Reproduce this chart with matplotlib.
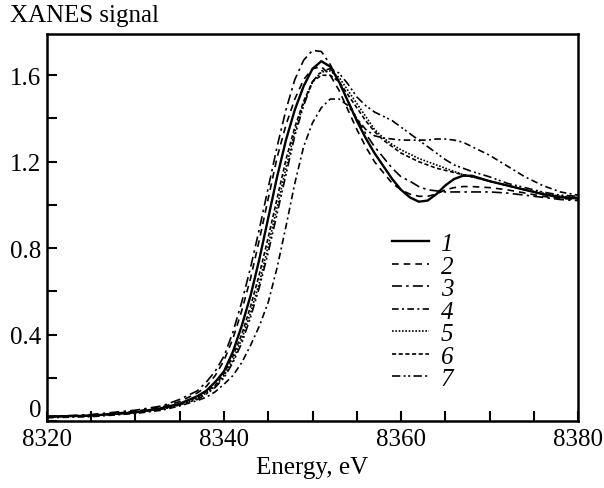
import matplotlib
matplotlib.use("Agg")
import matplotlib.pyplot as plt
from matplotlib.ticker import MultipleLocator

energy = [8320, 8325, 8330, 8333, 8335, 8337, 8338, 8339, 8340, 8341, 8342, 8343,
          8344, 8345, 8346, 8347, 8348, 8349, 8350, 8351, 8352, 8353, 8354, 8355,
          8356, 8357, 8358, 8359, 8360, 8361, 8362, 8363, 8364, 8365, 8366, 8367,
          8368, 8370, 8372, 8374, 8376, 8378, 8380]

s1 = [0.02, 0.025, 0.04, 0.06, 0.08, 0.115, 0.14, 0.18, 0.23, 0.32, 0.44, 0.58,
      0.75, 0.94, 1.13, 1.30, 1.44, 1.55, 1.63, 1.665, 1.64, 1.57, 1.48, 1.39,
      1.31, 1.24, 1.18, 1.12, 1.07, 1.035, 1.015, 1.02, 1.05, 1.09, 1.12, 1.135,
      1.135, 1.11, 1.09, 1.07, 1.05, 1.035, 1.03]
s2 = [0.02, 0.025, 0.045, 0.065, 0.09, 0.13, 0.16, 0.21, 0.28, 0.38, 0.51, 0.66,
      0.84, 1.03, 1.22, 1.37, 1.49, 1.58, 1.63, 1.64, 1.60, 1.53, 1.44, 1.35,
      1.27, 1.20, 1.15, 1.10, 1.07, 1.05, 1.04, 1.04, 1.05, 1.07, 1.08, 1.085,
      1.085, 1.08, 1.07, 1.055, 1.04, 1.03, 1.025]
s3 = [0.02, 0.03, 0.05, 0.07, 0.10, 0.14, 0.18, 0.23, 0.30, 0.41, 0.55, 0.71,
      0.89, 1.08, 1.27, 1.44, 1.58, 1.67, 1.715, 1.71, 1.65, 1.57, 1.48, 1.40,
      1.33, 1.27, 1.22, 1.17, 1.13, 1.11, 1.085, 1.07, 1.065, 1.06, 1.06, 1.06,
      1.06, 1.06, 1.055, 1.045, 1.035, 1.025, 1.02]
s4 = [0.015, 0.02, 0.035, 0.05, 0.07, 0.095, 0.11, 0.135, 0.17, 0.21, 0.27, 0.35,
      0.44, 0.55, 0.71, 0.90, 1.10, 1.27, 1.38, 1.45, 1.49, 1.49, 1.46, 1.40,
      1.35, 1.32, 1.31, 1.305, 1.30, 1.30, 1.30, 1.30, 1.305, 1.305, 1.30, 1.29,
      1.27, 1.23, 1.18, 1.13, 1.09, 1.06, 1.045]
s5 = [0.02, 0.025, 0.04, 0.055, 0.075, 0.105, 0.13, 0.16, 0.21, 0.28, 0.38, 0.50,
      0.64, 0.81, 0.99, 1.17, 1.34, 1.47, 1.57, 1.615, 1.62, 1.59, 1.53, 1.47,
      1.41, 1.35, 1.31, 1.28, 1.255, 1.235, 1.215, 1.20, 1.185, 1.17, 1.155, 1.14,
      1.13, 1.11, 1.09, 1.07, 1.055, 1.04, 1.035]
s6 = [0.02, 0.025, 0.04, 0.055, 0.08, 0.11, 0.135, 0.165, 0.22, 0.30, 0.40, 0.53,
      0.68, 0.85, 1.03, 1.21, 1.36, 1.48, 1.57, 1.60, 1.60, 1.57, 1.51, 1.45,
      1.39, 1.34, 1.30, 1.27, 1.24, 1.22, 1.20, 1.185, 1.17, 1.16, 1.15, 1.14,
      1.13, 1.11, 1.09, 1.07, 1.05, 1.04, 1.03]
s7 = [0.02, 0.025, 0.04, 0.055, 0.075, 0.10, 0.125, 0.155, 0.20, 0.27, 0.36, 0.48,
      0.62, 0.78, 0.96, 1.14, 1.32, 1.46, 1.57, 1.62, 1.63, 1.61, 1.56, 1.50,
      1.46, 1.43, 1.41, 1.39, 1.36, 1.33, 1.30, 1.27, 1.24, 1.21, 1.185, 1.17,
      1.155, 1.13, 1.10, 1.08, 1.06, 1.045, 1.04]

series = [s1, s2, s3, s4, s5, s6, s7]
labels = ["1", "2", "3", "4", "5", "6", "7"]
styles = [
    dict(ls="-", lw=1.7),
    dict(ls=(0, (4, 3)), lw=1.2),
    dict(ls=(0, (6, 2.5, 1.5, 2.5)), lw=1.2),
    dict(ls=(0, (4, 2, 1.2, 2)), lw=1.2),
    dict(ls=(0, (1, 1)), lw=1.2),
    dict(ls=(0, (2.5, 1.5)), lw=1.2),
    dict(ls=(0, (5, 2, 1.2, 1.5, 1.2, 2)), lw=1.2),
]

yticks = [0, 0.4, 0.8, 1.2, 1.6]
ytick_labels = ["0", "0.4", "0.8", "1.2", "1.6"]
xticks = [8320, 8340, 8360, 8380]
xtick_labels = ["8320", "8340", "8360", "8380"]

plt.rcParams['font.family'] = ['Liberation Serif', 'DejaVu Serif']
plt.rcParams['font.size'] = 18

fig = plt.figure(figsize=(6.04, 4.89), dpi=100)
ax = fig.add_axes([0.0778, 0.137, 0.957 - 0.0778, 0.928 - 0.137])

for y, lab, st in zip(series, labels, styles):
    ax.plot(energy, y, color="black", label=lab, **st)

ax.set_xlim(8320, 8380)
ax.set_ylim(0, 1.79)
ax.set_xticks(xticks)
ax.set_xticklabels(xtick_labels)
ax.xaxis.set_minor_locator(MultipleLocator(5))
ax.set_yticks(yticks)
ax.set_yticklabels(ytick_labels)
ax.yaxis.set_minor_locator(MultipleLocator(0.2))
ax.get_yticklabels()[0].set_verticalalignment("bottom")
ax.tick_params(which="both", direction="in", length=7, width=1.5, top=False, right=False)
ax.tick_params(axis="x", pad=5)
ax.tick_params(axis="y", pad=4)
for sp in ax.spines.values():
    sp.set_linewidth(1.8)

ax.set_xlabel("Energy, eV", labelpad=4)
fig.text(0.016, 0.955, "XANES signal", fontsize=18, ha="left", va="baseline")

leg = ax.legend(loc="upper left", bbox_to_anchor=(0.607, 0.545), frameon=False,
                handlelength=1.5, handletextpad=0.45, labelspacing=0.0,
                prop=dict(family="Liberation Serif", style="italic", size=18))

fig.savefig("out.png", dpi=100)
